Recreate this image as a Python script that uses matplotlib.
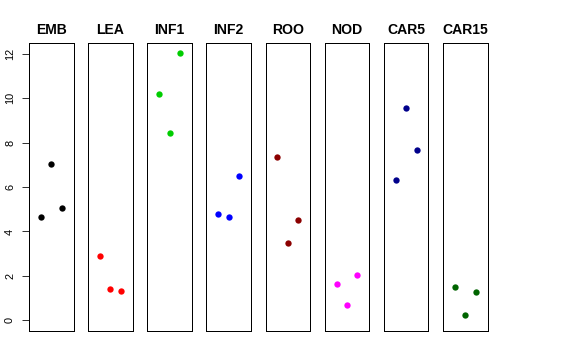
import matplotlib
matplotlib.use("Agg")
import matplotlib.pyplot as plt

groups = ["EMB", "LEA", "INF1", "INF2", "ROO", "NOD", "CAR5", "CAR15"]
colors = ["black", "red", "#00CD00", "blue", "#8B0000", "magenta", "#00008B", "#006400"]
replicate = [1, 2, 3]
values = [
    [4.64, 7.02, 5.07],
    [2.91, 1.42, 1.33],
    [10.17, 8.44, 12.02],
    [4.80, 4.66, 6.48],
    [7.35, 3.47, 4.50],
    [1.65, 0.70, 2.04],
    [6.31, 9.55, 7.68],
    [1.49, 0.24, 1.27],
]
yticks = [0, 2, 4, 6, 8, 10, 12]

W, H = 576, 360
fig = plt.figure(figsize=(W / 72, H / 72), dpi=72)
plt.rcParams['font.family'] = ['Liberation Sans', 'DejaVu Sans']

left0 = 29.0
pitch = 59.14
pw = 44.6
top_px, bot_px = 43.0, 331.0

for i, (g, c, v) in enumerate(zip(groups, colors, values)):
    lx = left0 + i * pitch
    ax = fig.add_axes([lx / W, 1 - bot_px / H, pw / W, (bot_px - top_px) / H])
    ax.scatter(replicate, v, s=40, color=c, zorder=3, linewidths=0)
    ax.set_xlim(-0.13, 4.13)
    ax.set_ylim(-0.48, 12.48)
    ax.set_xticks([])
    for sp in ax.spines.values():
        sp.set_linewidth(1.0)
        sp.set_color("black")
    if i == 0:
        ax.set_yticks(yticks)
        ax.set_yticklabels([str(t) for t in yticks], rotation=90, va="center", fontsize=11)
        ax.tick_params(axis="y", length=7, width=1, pad=7, color="#333333")
    else:
        ax.set_yticks([])
    ax.text(0.5, 1.03, g, transform=ax.transAxes, ha="center", va="baseline",
            fontsize=14, fontweight="bold")

fig.savefig("out.png", dpi=72)
